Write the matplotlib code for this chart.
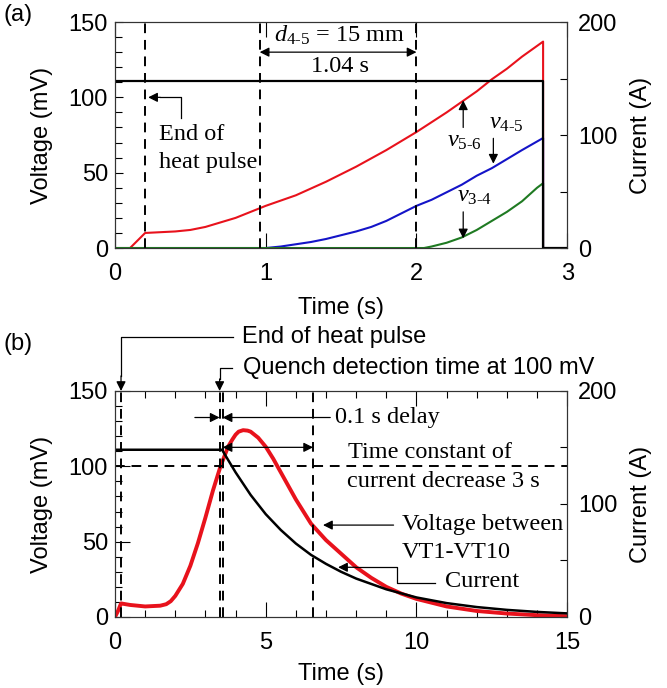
import matplotlib.pyplot as plt
from matplotlib.ticker import MultipleLocator

plt.rcParams['font.family'] = ['Liberation Sans', 'DejaVu Sans']
plt.rcParams['mathtext.fontset'] = 'custom'
plt.rcParams['mathtext.rm'] = 'Liberation Serif'
plt.rcParams['mathtext.it'] = 'Liberation Serif:italic'

SERIF = 'Liberation Serif'
FS = 17
FS_SERIF = 17.5
RED = '#e8121c'
BLUE = '#1414c8'
GREEN = '#1f7a22'

# ---- panel (a): quench propagation ----
t_v56 = [0, 0.1, 0.2, 0.3, 0.4, 0.5, 0.6, 0.7, 0.8, 0.9, 1.0, 1.2, 1.4, 1.5,
         1.6, 1.8, 2.0, 2.2, 2.4, 2.5, 2.6, 2.7, 2.84, 2.84]
v56 = [0, 0, 10, 10.5, 11, 12, 14, 17, 20, 24, 28, 35, 44, 49,
       54, 65, 77, 90, 104, 112, 119, 127, 137, 0]
t_v45 = [0, 1.0, 1.1, 1.2, 1.3, 1.4, 1.5, 1.6, 1.7, 1.8, 1.9, 2.0, 2.1, 2.2,
         2.3, 2.4, 2.5, 2.6, 2.7, 2.84, 2.84]
v45 = [0, 0, 1, 2.5, 4, 6, 8.5, 11, 14, 18, 23, 28, 32, 37,
       42, 48, 53, 59, 65, 73, 0]
t_v34 = [0, 2.05, 2.1, 2.2, 2.3, 2.4, 2.5, 2.6, 2.7, 2.8, 2.84, 2.84]
v34 = [0, 0, 1, 3.5, 7, 12, 18, 24, 31, 40, 43, 0]
t_ia = [0, 2.84, 2.84, 3.0]
i_a = [148, 148, 0, 0]
marks_a = [0.2, 0.96, 2.0]

# ---- panel (b): protection ----
t_vt = [0, 0.1, 0.2, 0.5, 1.0, 1.5, 1.7, 1.85, 2.0, 2.25, 2.5, 2.75, 3.0,
        3.25, 3.5, 3.75, 3.9, 4.0, 4.1, 4.25, 4.4, 4.5, 4.75, 5.0, 5.25,
        5.5, 6.0, 6.5, 7.0, 7.5, 8.0, 8.5, 9.0, 9.5, 10, 11, 12, 13, 14, 15]
v_vt = [0, 4, 9, 8, 7, 7.5, 8.5, 10.5, 14, 22, 34, 49, 66,
        84, 100, 113, 118, 121, 123, 124, 123.7, 123, 119, 113, 105,
        96, 78, 62, 51, 42, 33, 26, 20, 15.5, 12, 7, 4, 2.3, 1.2, 0.5]
t_ib = [0, 3.55, 4.0, 4.5, 5.0, 5.5, 6.0, 6.5, 7.0, 7.5, 8.0, 9.0, 10,
        11, 12, 13, 14, 15]
i_b = [148, 148, 128, 108, 91, 77, 65, 55, 47, 40, 34, 24.5, 17.3,
       12.3, 8.8, 6.3, 4.5, 3.2]
marks_b = [0.2, 3.47, 3.57, 6.57]


def arrow(ax, tail, tip, style='-|>'):
    ax.annotate('', xy=tip, xytext=tail, annotation_clip=False,
                arrowprops=dict(arrowstyle=style, color='k', lw=0.9,
                                mutation_scale=14, shrinkA=0, shrinkB=0))


def style_axes(ax, ax2, xmax, xmajor, xminor, ymajor_len, xmajor_len):
    ax.set_xlim(0, xmax)
    ax.set_ylim(0, 150)
    ax2.set_ylim(0, 200)
    ax.xaxis.set_major_locator(MultipleLocator(xmajor))
    if xminor:
        ax.xaxis.set_minor_locator(MultipleLocator(xminor))
    ax.yaxis.set_major_locator(MultipleLocator(50))
    ax.yaxis.set_minor_locator(MultipleLocator(10))
    ax2.yaxis.set_major_locator(MultipleLocator(100))
    ax2.yaxis.set_minor_locator(MultipleLocator(50))
    ax.tick_params(axis='y', which='major', direction='in', length=ymajor_len,
                   width=0.8, labelsize=FS, pad=5, right=False)
    ax.tick_params(axis='y', which='minor', direction='in', length=5,
                   width=0.8, right=False)
    ax.tick_params(axis='x', which='major', direction='in', length=xmajor_len,
                   width=0.8, labelsize=FS, pad=11, top=True)
    ax.tick_params(axis='x', which='minor', direction='in', length=5,
                   width=0.8, top=True)
    ax2.tick_params(axis='y', which='both', direction='in', length=5,
                    width=0.8, labelsize=FS, pad=8)
    for a in (ax, ax2):
        for s in a.spines.values():
            s.set_linewidth(0.8)
            s.set_color('#333333')
    ax.set_ylabel('Voltage (mV)', fontsize=FS)
    ax.yaxis.set_label_coords(-0.137, 0.5)
    ax2.set_ylabel('Current (A)', fontsize=FS)
    ax2.yaxis.set_label_coords(1.139, 0.5)
    ax.set_xlabel('Time (s)', fontsize=FS)


fig = plt.figure(figsize=(6.67, 6.88), dpi=100)

# ---------------- (a) ----------------
ax = fig.add_axes([0.1724, 0.6395, 0.678, 0.3285])
ax2 = ax.twinx()
ax.plot(t_v56, v56, color=RED, lw=1.5)
ax.plot(t_v45, v45, color=BLUE, lw=1.5)
ax.plot(t_v34, v34, color=GREEN, lw=1.5)
ax2.plot(t_ia, i_a, color='k', lw=1.6)
for x in marks_a:
    ax.plot([x, x], [0, 150], color='k', lw=1.4, ls=(0, (5, 3.5)))
style_axes(ax, ax2, 3, 1, None, 5.5, 11)
ax.xaxis.set_label_coords(0.5, -0.215)

ax.text(1.49, 137, r'$d_{\text{4-5}}$ = 15 mm', family=SERIF, fontsize=FS_SERIF,
        ha='center', va='baseline')
arrow(ax, (0.96, 130), (2.0, 130), '<|-|>')
ax.text(1.49, 117, '1.04 s', family=SERIF, fontsize=FS_SERIF,
        ha='center', va='baseline')
ax.text(0.29, 72, 'End of', family=SERIF, fontsize=FS_SERIF, va='baseline')
ax.text(0.29, 53, 'heat pulse', family=SERIF, fontsize=FS_SERIF, va='baseline')
ax.plot([0.44, 0.44, 0.3], [86, 100, 100], color='k', lw=0.9)
arrow(ax, (0.3, 100), (0.22, 100))
ax.text(2.2, 67, r'$v_{\text{5-6}}$', family=SERIF, fontsize=FS_SERIF, va='baseline')
arrow(ax, (2.31, 80), (2.31, 98))
ax.text(2.48, 79.4, r'$v_{\text{4-5}}$', family=SERIF, fontsize=FS_SERIF, va='baseline')
arrow(ax, (2.51, 72.8), (2.51, 56))
ax.text(2.27, 30.7, r'$v_{\text{3-4}}$', family=SERIF, fontsize=FS_SERIF, va='baseline')
arrow(ax, (2.31, 24), (2.31, 6.4))
fig.text(0.027, 0.978, '(a)', fontsize=FS, ha='center', va='center')

# ---------------- (b) ----------------
bx = fig.add_axes([0.1724, 0.1032, 0.678, 0.3285])
bx2 = bx.twinx()
bx.plot(t_vt, v_vt, color=RED, lw=2.8)
bx2.plot(t_ib, i_b, color='k', lw=1.8)
for x in marks_b:
    bx.plot([x, x], [0, 150], color='k', lw=1.4, ls=(0, (5, 3.5)))
bx.plot([0, 15], [100, 100], color='k', lw=1.4, ls=(0, (5, 3.5)))
style_axes(bx, bx2, 15, 5, 1, 11, 11)
bx.xaxis.set_label_coords(0.5, -0.204)

bx.text(4.22, 185.8, 'End of heat pulse', fontsize=FS, va='center')
bx.plot([3.92, 0.2, 0.2], [185.8, 185.8, 160], color='k', lw=0.9, clip_on=False)
arrow(bx, (0.2, 160), (0.2, 150))
bx.text(4.25, 165, 'Quench detection time at 100 mV', fontsize=FS, va='center')
bx.plot([3.88, 3.47, 3.47], [165, 165, 158], color='k', lw=0.9, clip_on=False)
arrow(bx, (3.47, 158), (3.47, 150))
arrow(bx, (2.65, 132.4), (3.47, 132.4))
arrow(bx, (7.14, 132.4), (3.57, 132.4))
bx.text(7.3, 132.4, '0.1 s delay', family=SERIF, fontsize=FS_SERIF, va='center')
arrow(bx, (3.57, 112.6), (6.57, 112.6), '<|-|>')
bx.text(7.74, 105.3, 'Time constant of', family=SERIF, fontsize=FS_SERIF,
        va='baseline')
bx.text(7.69, 86.5, 'current decrease 3 s', family=SERIF, fontsize=FS_SERIF,
        va='baseline')
bx.text(9.52, 57.7, 'Voltage between', family=SERIF, fontsize=FS_SERIF,
        va='baseline')
bx.text(9.52, 39, 'VT1-VT10', family=SERIF, fontsize=FS_SERIF, va='baseline')
arrow(bx, (9.24, 61), (6.9, 61))
bx.text(10.95, 20, 'Current', family=SERIF, fontsize=FS_SERIF, va='baseline')
bx.plot([10.62, 9.35, 9.35, 8.0], [22.3, 22.3, 33, 33], color='k', lw=0.9)
arrow(bx, (8.0, 33), (7.4, 33))
fig.text(0.027, 0.5, '(b)', fontsize=FS, ha='center', va='center')

fig.savefig('out.png', dpi=100)
plt.close(fig)
